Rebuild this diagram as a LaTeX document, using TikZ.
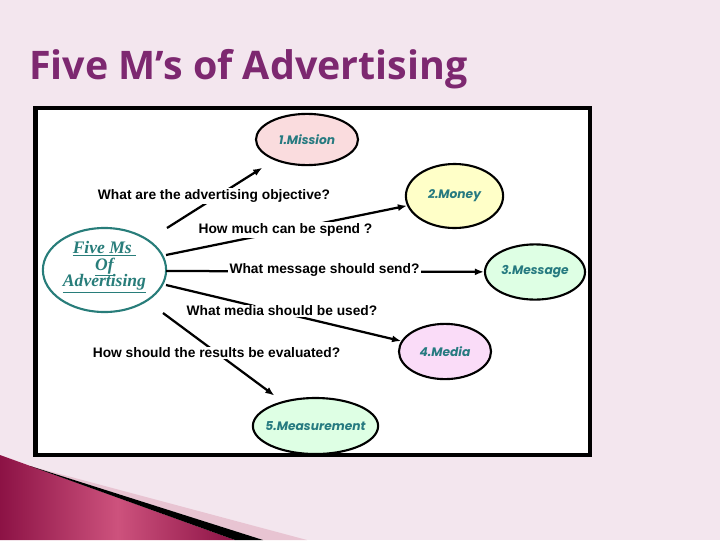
\documentclass[tikz,border=0pt]{standalone}
\usepackage{fontspec}
\setmainfont{Liberation Sans}
\newfontfamily\titlefont{Open Sans}
\newfontfamily\mfont{Poppins}
\newfontfamily\hubfont{Liberation Serif}
\usetikzlibrary{arrows.meta}
\usetikzlibrary{shapes.geometric}
\definecolor{slidebg}{RGB}{243,230,238}
\definecolor{titlepurple}{RGB}{125,40,112}
\definecolor{hubteal}{RGB}{40,125,122}
\definecolor{mtext}{RGB}{38,122,128}
\definecolor{pinkfill}{RGB}{250,220,222}
\definecolor{yellowfill}{RGB}{255,255,200}
\definecolor{greenfill}{RGB}{222,255,228}
\definecolor{violetfill}{RGB}{250,220,248}
\definecolor{rosetri}{RGB}{232,196,210}
\definecolor{wine}{RGB}{140,18,69}
\definecolor{winelight}{RGB}{205,82,125}
\tikzset{mnode/.style={ellipse,draw,line width=1.5pt,inner sep=0pt,
           font=\mfont\bfseries\itshape\fontsize{8.7}{10}\selectfont,text=mtext},
         hub/.style={ellipse,draw=hubteal,fill=white,line width=1.5pt,inner sep=0pt,
           align=center,text=hubteal,font=\hubfont\bfseries\itshape\fontsize{12.5}{12}\selectfont},
         qlabel/.style={fill=white,inner sep=1pt,font=\bfseries\fontsize{9.8}{11}\selectfont},
         conn/.style={line width=1.6pt,-{Latex[length=6.5pt,width=5pt]}}
         }

\begin{document}
\begin{tikzpicture}[x=0.025cm,y=-0.025cm]
        \fill[slidebg] (0,0) rectangle (720,540);
        \useasboundingbox (0,0) rectangle (720,540);

        % corner decoration
        \fill[rosetri] (30,466) -- (307,540) -- (263,540) -- cycle;
        \shade[left color=wine,right color=wine,middle color=winelight]
          (0,455) -- (235,540) -- (0,540) -- cycle;
        \fill[black] (30,466) -- (263,540) -- (235,540) -- cycle;

        \node[anchor=base west,text=titlepurple,inner sep=0pt,
              font=\titlefont\bfseries\fontsize{28}{30}\selectfont] (title) at (29,79)
              {Five M’s of Advertising};

        \draw[fill=white,line width=3pt] (35.5,108) rectangle (590,455);

        \node[hub,minimum width=3.08cm,minimum height=2.1cm] (hub) at (104.5,270)
             {\smash{\underline{Five Ms\ }}\\\smash{\underline{Of}}\\\smash{\underline{Advertising}}};
        \node[mnode,fill=pinkfill,minimum width=2.55cm,minimum height=1.28cm] (mission) at (307,139.5) {1.Mission};
        \node[mnode,fill=yellowfill,minimum width=2.43cm,minimum height=1.6cm] (money) at (454.5,196) {2.Money};
        \node[mnode,fill=greenfill,minimum width=2.5cm,minimum height=1.38cm] (message) at (535,272) {3.Message};
        \node[mnode,fill=violetfill,minimum width=2.3cm,minimum height=1.38cm] (media) at (445,351.5) {4.Media};
        \node[mnode,fill=greenfill,minimum width=3.13cm,minimum height=1.4cm] (measure) at (315.5,426) {\makebox[0pt]{5.Measurement}};

        \coordinate (s1) at (167,228);
        \coordinate (s2) at (166,255);
        \coordinate (s3) at (166,271);
        \coordinate (s4) at (166,285);
        \coordinate (s5) at (163,313);

        \draw[conn,shorten >=10pt] (s1) -- (mission);
        \draw[conn] (s2) -- (money);
        \draw[conn] (s3) -- (message);
        \draw[conn] (s4) -- (media);
        \draw[conn,shorten >=6.8pt] (s5) -- (measure);

        \node[qlabel] (q1) at (214,196) {What are the advertising objective?};
        \node[qlabel] (q2) at (285.5,230) {How much can be spend ?};
        \node[qlabel] (q3) at (324.5,270) {What message should send?};
        \node[qlabel] (q4) at (282,311) {What media should be used?};
        \node[qlabel] (q5) at (216.5,353) {How should the results be evaluated?};
\end{tikzpicture}
\end{document}
